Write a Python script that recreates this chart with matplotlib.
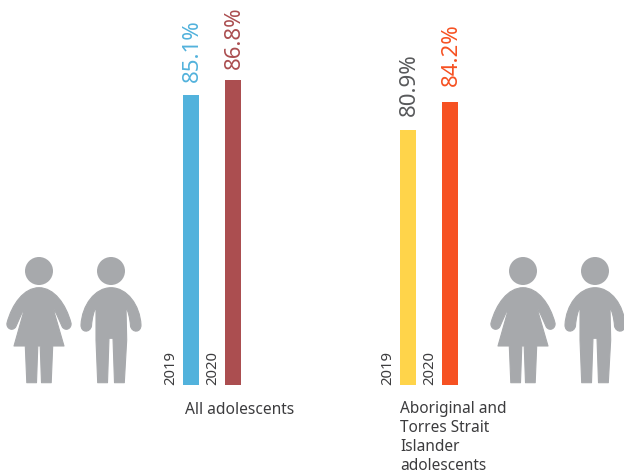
import matplotlib
matplotlib.use("Agg")
import matplotlib.pyplot as plt
from matplotlib.path import Path
from matplotlib.patches import PathPatch, Circle

W, H = 624, 473
DPI = 100
plt.rcParams['font.family'] = ['Noto Sans', 'DejaVu Sans']

# data
years = ['2019', '2020']
all_values = [85.1, 86.8]
atsi_values = [80.9, 84.2]
group_labels = ['All adolescents', 'Aboriginal and\nTorres Strait\nIslander\nadolescents']

# layout
BASE = 51.0          # the value the bars start from
PX_PER_UNIT = 8.5
BASE_PX = 384.5
BAR_W = 16
all_x = [183, 225]
atsi_x = [400, 442]
all_gaps = [12.5, 11.5]
atsi_gaps = [14, 16]
all_colors = ['#52b2dc', '#ab4e50']
atsi_colors = ['#ffd44a', '#f65122']
atsi_text = ['#58595b', '#f65122']
ICON = '#a7a9ac'
TEXT = '#3c3c3e'

fig = plt.figure(figsize=(W / DPI, H / DPI), dpi=DPI)
# x in pixels, y in data units, so the bars scale off the values
ax = fig.add_axes([0, 0, 1, 1])
ax.set_xlim(0, W)
ax.set_ylim(BASE - (H - BASE_PX) / PX_PER_UNIT, BASE + BASE_PX / PX_PER_UNIT)
ax.axis('off')

# pixel overlay for the people
pic = fig.add_axes([0, 0, 1, 1], zorder=-1)
pic.set_xlim(0, W)
pic.set_ylim(H, 0)
pic.axis('off')


def draw_bars(xs, values, colors, text_colors, gaps):
    for x, v, c, tc, yr, gap in zip(xs, values, colors, text_colors, years, gaps):
        ax.bar(x, v - BASE, bottom=BASE, width=BAR_W, align='edge', color=c, lw=0)
        ax.annotate(f'{v}%', (x + BAR_W / 2, v), xytext=(1.5, gap), textcoords='offset pixels',
                    rotation=90, ha='center', va='bottom', fontsize=16, color=tc,
                    fontweight='light')
        ax.annotate(yr, (x, BASE), xytext=(-12.5, 0), textcoords='offset pixels',
                    rotation=90, ha='center', va='bottom', fontsize=10.7, color=TEXT)


def add_person(verts, codes, dx, head_x):
    verts = [(x + dx, y) for x, y in verts]
    pic.add_patch(PathPatch(Path(verts, codes), fc=ICON, ec=ICON, lw=0.8, joinstyle='round'))
    pic.add_patch(Circle((head_x + dx, 271), 14, fc=ICON, ec='none'))


woman_verts = [(39, 287.7),
               (54, 287.7), (66, 304), (71, 323),
               (72, 328), (66, 332), (62.3, 327),
               (60, 322), (56, 312), (52.7, 307),
               (64, 346),
               (52.7, 346), (51.2, 382.7), (41.5, 382.7), (40.2, 346),
               (37.8, 346), (36.5, 382.7), (26.8, 382.7), (25.3, 346),
               (14, 346), (25, 307),
               (22, 312), (18, 322), (15.7, 327),
               (12, 332), (6, 328), (7, 323),
               (12, 304), (24, 287.7), (39, 287.7), (39, 287.7)]
woman_codes = [Path.MOVETO,
               Path.CURVE4, Path.CURVE4, Path.CURVE4,
               Path.CURVE4, Path.CURVE4, Path.CURVE4,
               Path.CURVE4, Path.CURVE4, Path.CURVE4,
               Path.LINETO,
               Path.LINETO, Path.LINETO, Path.LINETO, Path.LINETO,
               Path.LINETO, Path.LINETO, Path.LINETO, Path.LINETO,
               Path.LINETO, Path.LINETO,
               Path.CURVE4, Path.CURVE4, Path.CURVE4,
               Path.CURVE4, Path.CURVE4, Path.CURVE4,
               Path.CURVE4, Path.CURVE4, Path.CURVE4, Path.CLOSEPOLY]

man_verts = [(111, 287.7),
             (127, 287.7), (140, 305), (141, 325),
             (141, 333), (132, 333), (130.5, 326),
             (130, 318), (128, 311), (126, 307),
             (126.7, 340), (124.3, 382.7), (114.5, 382.7), (113, 338.3),
             (109, 338.3), (107.5, 382.7), (97.7, 382.7), (96, 340),
             (96, 307),
             (94, 311), (92, 318), (91.5, 326),
             (90, 333), (81, 333), (81, 325),
             (82, 305), (95, 287.7), (111, 287.7), (111, 287.7)]
man_codes = [Path.MOVETO,
             Path.CURVE4, Path.CURVE4, Path.CURVE4,
             Path.CURVE4, Path.CURVE4, Path.CURVE4,
             Path.CURVE4, Path.CURVE4, Path.CURVE4,
             Path.LINETO, Path.LINETO, Path.LINETO, Path.LINETO,
             Path.LINETO, Path.LINETO, Path.LINETO, Path.LINETO,
             Path.LINETO,
             Path.CURVE4, Path.CURVE4, Path.CURVE4,
             Path.CURVE4, Path.CURVE4, Path.CURVE4,
             Path.CURVE4, Path.CURVE4, Path.CURVE4, Path.CLOSEPOLY]

draw_bars(all_x, all_values, all_colors, all_colors, all_gaps)
draw_bars(atsi_x, atsi_values, atsi_colors, atsi_text, atsi_gaps)

add_person(woman_verts, woman_codes, 0, 39)
add_person(man_verts, man_codes, 0, 111)
add_person(woman_verts, woman_codes, 484, 39)
add_person(man_verts, man_codes, 484, 111)

pic.text(185, 402, group_labels[0], fontsize=11.2, color=TEXT, va='top', ha='left')
pic.text(400, 400.5, group_labels[1], fontsize=11.1, color=TEXT, va='top', ha='left', linespacing=1.25)

fig.savefig('out.png', dpi=DPI)
